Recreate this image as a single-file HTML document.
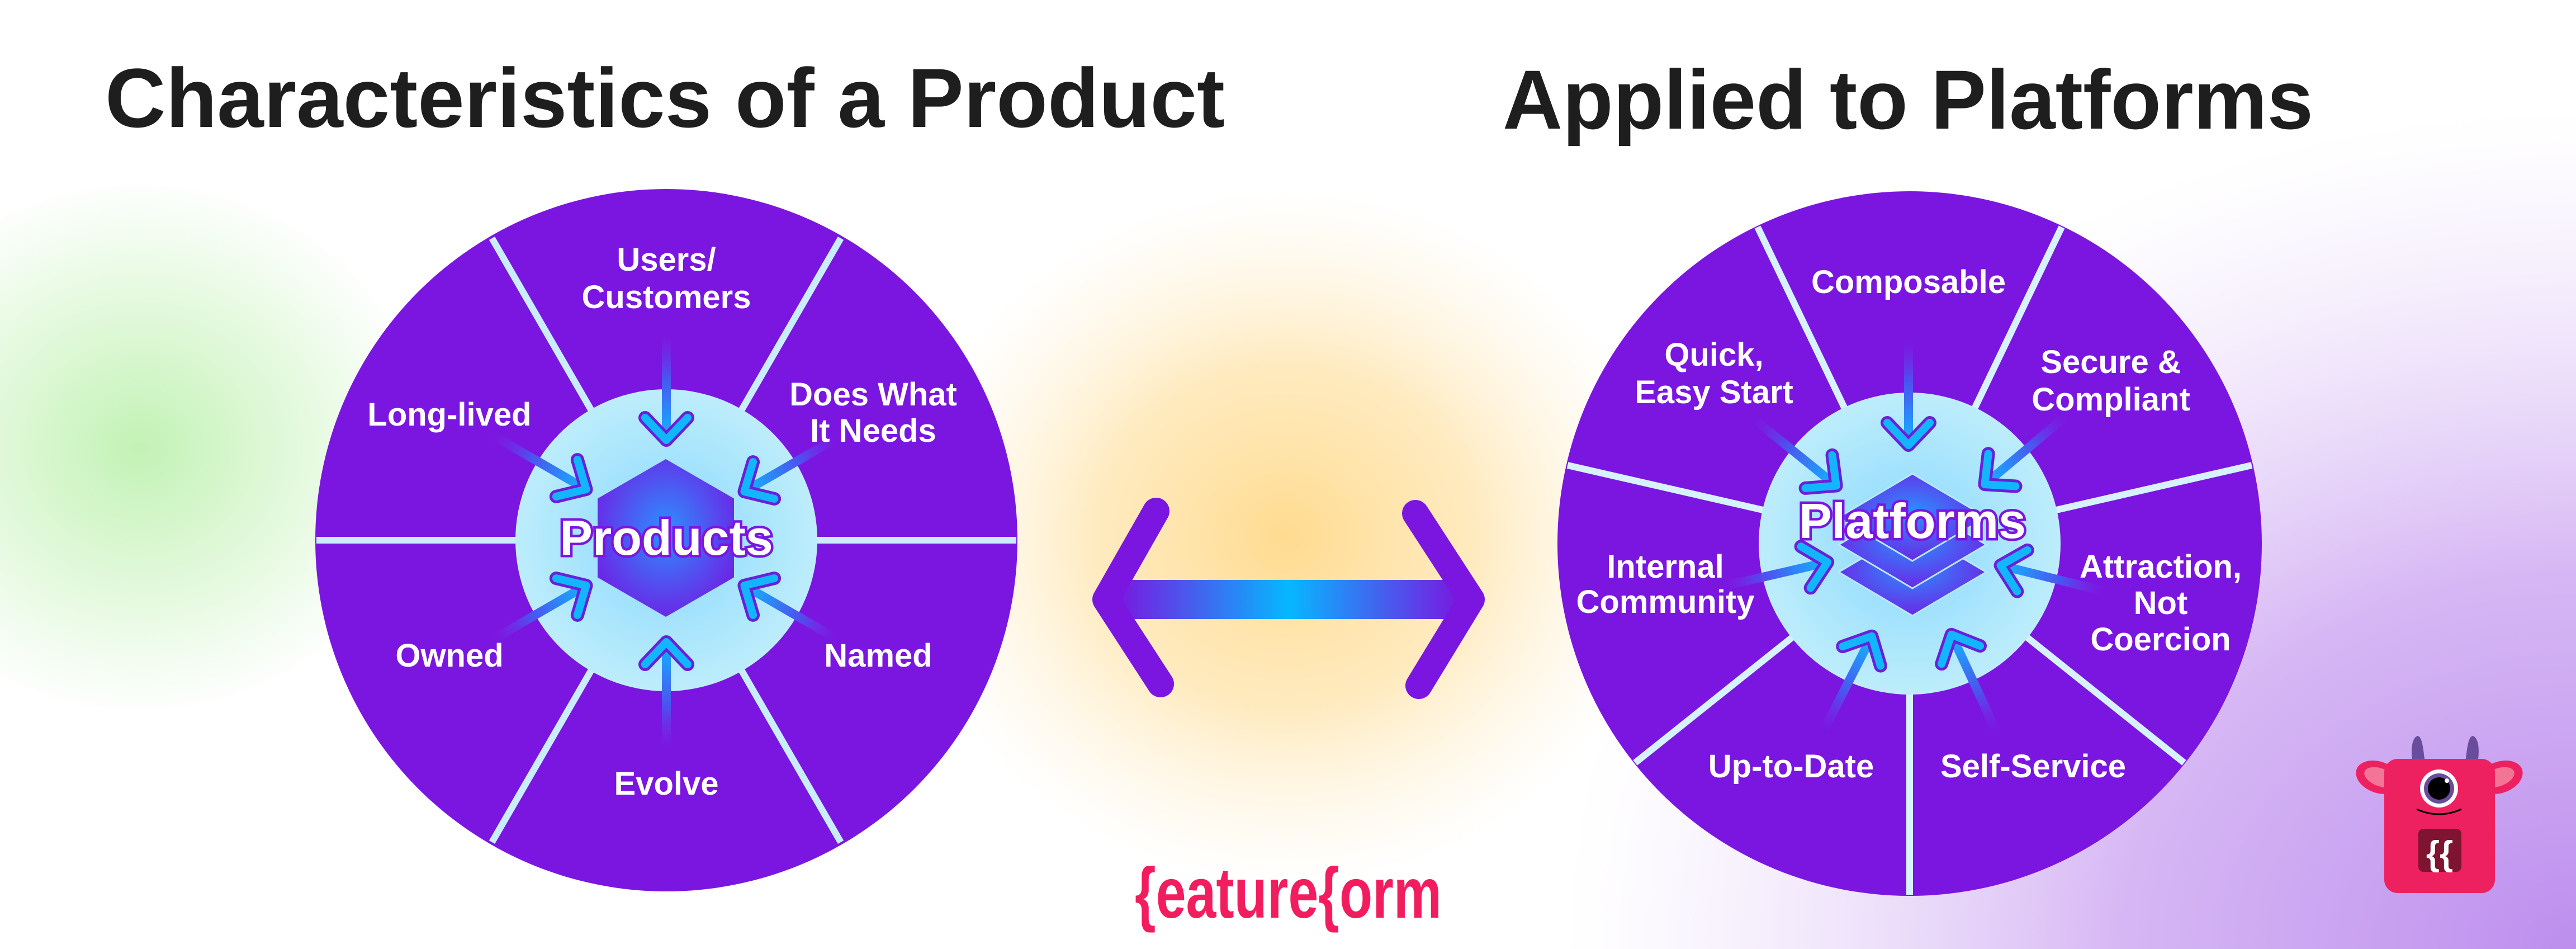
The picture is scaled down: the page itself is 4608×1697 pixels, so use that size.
<!DOCTYPE html>
<html><head><meta charset="utf-8"><style>
html,body{margin:0;padding:0;background:#fff;}
svg{display:block;}
text{font-family:"Liberation Sans",sans-serif;font-weight:bold;}
</style></head><body>
<svg width="4608" height="1697" viewBox="0 0 4608 1697" xmlns="http://www.w3.org/2000/svg">
<defs>
<radialGradient id="gGreen" cx="0.5" cy="0.5" r="0.5"><stop offset="0" stop-color="#b8f0a8" stop-opacity="0.85"/><stop offset="1" stop-color="#b8f0a8" stop-opacity="0"/></radialGradient>
<radialGradient id="gOrange" cx="0.5" cy="0.5" r="0.5"><stop offset="0" stop-color="#ffd98a" stop-opacity="0.95"/><stop offset="0.5" stop-color="#ffe2a5" stop-opacity="0.7"/><stop offset="1" stop-color="#fff0d0" stop-opacity="0"/></radialGradient>
<radialGradient id="gPurple" cx="1" cy="1" r="1"><stop offset="0" stop-color="#bd8eee"/><stop offset="0.45" stop-color="#cfaaf2" stop-opacity="0.85"/><stop offset="1" stop-color="#e8d8fa" stop-opacity="0"/></radialGradient>
<radialGradient id="gInner" cx="0.5" cy="0.5" r="0.5"><stop offset="0" stop-color="#8ad8ff"/><stop offset="1" stop-color="#bdedfb"/></radialGradient>
<radialGradient id="gHex" cx="0.5" cy="0.45" r="0.55"><stop offset="0" stop-color="#2b90ff"/><stop offset="1" stop-color="#6a28e6"/></radialGradient>
<linearGradient id="gShaft" x1="0" y1="0" x2="1" y2="0"><stop offset="0" stop-color="#7a16e0"/><stop offset="0.5" stop-color="#05b8ff"/><stop offset="1" stop-color="#7a16e0"/></linearGradient>
<linearGradient id="gArr" x1="0" y1="0" x2="1" y2="0"><stop offset="0" stop-color="#7a2ee8" stop-opacity="0"/><stop offset="0.4" stop-color="#4e50ee"/><stop offset="1" stop-color="#12b4ff"/></linearGradient>
<g id="arr">
<rect x="0" y="-8" width="186" height="16" fill="url(#gArr)"/>
<polyline points="150,-38 190,0 150,38" fill="none" stroke="#6a1fd8" stroke-width="24" stroke-linecap="round" stroke-linejoin="round"/>
<polyline points="150,-38 190,0 150,38" fill="none" stroke="#12b6ff" stroke-width="14" stroke-linecap="round" stroke-linejoin="round"/>
</g>
</defs>

<ellipse cx="250" cy="800" rx="520" ry="480" fill="url(#gGreen)"/>
<ellipse cx="2300" cy="960" rx="680" ry="620" fill="url(#gOrange)"/>
<rect x="2800" y="200" width="1808" height="1497" fill="url(#gPurple)"/>

<text x="188" y="227" font-size="150" fill="#1e1e1e" textLength="2003" lengthAdjust="spacingAndGlyphs">Characteristics of a Product</text>
<text x="2688" y="230" font-size="150" fill="#1e1e1e" textLength="1450" lengthAdjust="spacingAndGlyphs">Applied to Platforms</text>

<!-- LEFT wheel -->
<circle cx="1192" cy="966" r="628" fill="#7a16e0"/>
<g stroke="#c8eefc" stroke-width="12">
<line x1="566" y1="966" x2="1818" y2="966"/>
<line x1="880" y1="426" x2="1504" y2="1506"/>
<line x1="1504" y1="426" x2="880" y2="1506"/>
</g>
<circle cx="1192" cy="966" r="270" fill="url(#gInner)"/>
<polygon points="1191,821 1313,891.5 1313,1032.5 1191,1103 1069,1032.5 1069,891.5" fill="url(#gHex)"/>
<g transform="translate(1192,597) rotate(90)"><use href="#arr"/></g>
<g transform="translate(1192,1338) rotate(-90)"><use href="#arr"/></g>
<g transform="translate(884,780) rotate(30)"><use href="#arr"/></g>
<g transform="translate(1496,784) rotate(150)"><use href="#arr"/></g>
<g transform="translate(884,1142) rotate(-30)"><use href="#arr"/></g>
<g transform="translate(1496,1142) rotate(210)"><use href="#arr"/></g>
<text x="1192" y="992" font-size="88" fill="#fff" stroke="#7a16e0" stroke-width="9" paint-order="stroke" text-anchor="middle">Products</text>
<g font-size="58" fill="#fff" text-anchor="middle">
<text x="1192" y="484">Users/</text>
<text x="1192" y="551">Customers</text>
<text x="804" y="761">Long-lived</text>
<text x="1562" y="725">Does What</text>
<text x="1562" y="790">It Needs</text>
<text x="804" y="1192">Owned</text>
<text x="1571" y="1192">Named</text>
<text x="1192" y="1421">Evolve</text>
</g>

<!-- double arrow -->
<rect x="1995" y="1037" width="620" height="70" fill="url(#gShaft)"/>
<polyline points="2068,914 1978,1072 2076,1223" fill="none" stroke="#7a16e0" stroke-width="48" stroke-linecap="round" stroke-linejoin="round"/>
<polyline points="2532,918 2632,1072 2538,1226" fill="none" stroke="#7a16e0" stroke-width="48" stroke-linecap="round" stroke-linejoin="round"/>

<!-- RIGHT wheel -->
<circle cx="3416" cy="972" r="630" fill="#7a16e0"/>
<g stroke="#d6f2fc" stroke-width="12">
<line x1="3416" y1="972" x2="3416" y2="1600"/>
<line x1="3416" y1="972" x2="3907" y2="1364"/>
<line x1="3416" y1="972" x2="4028" y2="832"/>
<line x1="3416" y1="972" x2="3688" y2="406"/>
<line x1="3416" y1="972" x2="3144" y2="406"/>
<line x1="3416" y1="972" x2="2804" y2="832"/>
<line x1="3416" y1="972" x2="2925" y2="1364"/>
</g>
<circle cx="3416" cy="972" r="270" fill="url(#gInner)"/>
<polygon points="3421,945 3553,1023 3421,1101 3289,1023" fill="url(#gHex)" stroke="#b8e8fb" stroke-width="3"/>
<polygon points="3421,896 3553,974 3421,1052 3289,974" fill="url(#gHex)" stroke="#b8e8fb" stroke-width="3"/>
<polygon points="3421,847 3553,925 3421,1003 3289,925" fill="url(#gHex)" stroke="#b8e8fb" stroke-width="3"/>
<g transform="translate(3414,606) rotate(90)"><use href="#arr"/></g>
<g transform="translate(3137,749) rotate(39)"><use href="#arr"/></g>
<g transform="translate(3696,744) rotate(140)"><use href="#arr"/></g>
<g transform="translate(3084,1048) rotate(-13)"><use href="#arr"/></g>
<g transform="translate(3763,1057) rotate(194)"><use href="#arr"/></g>
<g transform="translate(3262,1307) rotate(-63)"><use href="#arr"/></g>
<g transform="translate(3571,1307) rotate(245)"><use href="#arr"/></g>
<text x="3421" y="962" font-size="88" fill="#fff" stroke="#7a16e0" stroke-width="9" paint-order="stroke" text-anchor="middle">Platforms</text>
<g font-size="58" fill="#fff" text-anchor="middle">
<text x="3414" y="524">Composable</text>
<text x="3066" y="654">Quick,</text>
<text x="3066" y="721">Easy Start</text>
<text x="3776" y="667">Secure &amp;</text>
<text x="3776" y="734">Compliant</text>
<text x="2979" y="1033">Internal</text>
<text x="2979" y="1096">Community</text>
<text x="3865" y="1033">Attraction,</text>
<text x="3865" y="1098">Not</text>
<text x="3865" y="1163">Coercion</text>
<text x="3204" y="1390">Up-to-Date</text>
<text x="3637" y="1390">Self-Service</text>
</g>

<!-- logo -->
<text x="2030" y="1641" font-size="128" fill="#f21d5e" textLength="549" lengthAdjust="spacingAndGlyphs">{eature{orm</text>

<!-- mascot -->
<path d="M4318,1375 C4310,1340 4315,1318 4325,1316 C4335,1318 4335,1350 4340,1375 Z" fill="#6a4c9c"/>
<path d="M4408,1375 C4413,1350 4413,1318 4423,1316 C4433,1318 4438,1340 4430,1375 Z" fill="#6a4c9c"/>
<ellipse cx="4255" cy="1390" rx="42" ry="28" fill="#ee2160" transform="rotate(20 4255 1390)"/>
<ellipse cx="4258" cy="1390" rx="30" ry="16" fill="#f27596" transform="rotate(20 4258 1390)"/>
<ellipse cx="4472" cy="1390" rx="42" ry="28" fill="#ee2160" transform="rotate(-20 4472 1390)"/>
<ellipse cx="4469" cy="1390" rx="30" ry="16" fill="#f27596" transform="rotate(-20 4469 1390)"/>
<rect x="4265" y="1357" width="198" height="240" rx="24" fill="#ee2160"/>
<circle cx="4363" cy="1410" r="34" fill="#fff"/>
<circle cx="4363" cy="1410" r="27" fill="#6a4c9c"/>
<circle cx="4363" cy="1410" r="20" fill="#000"/>
<circle cx="4377" cy="1396" r="4" fill="#fff"/>
<path d="M4323,1447 Q4363,1465 4403,1447" fill="none" stroke="#000" stroke-width="3"/>
<rect x="4326" y="1482" width="77" height="77" rx="9" fill="#7e1430"/>
<text x="4364" y="1547" font-size="62" fill="#fff" text-anchor="middle">{{</text>
</svg>
</body></html>
